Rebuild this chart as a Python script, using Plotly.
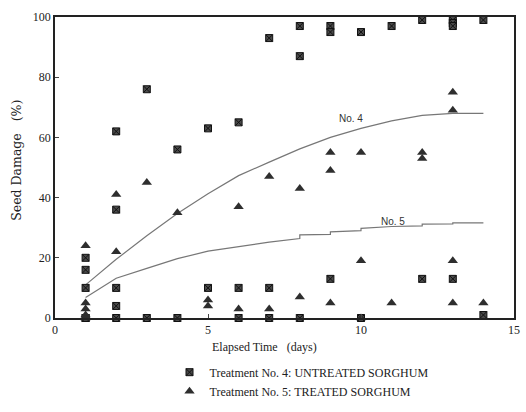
import plotly.graph_objects as go

# ---- data ----
t4_days = [1, 1, 1, 1, 1, 2, 2, 2, 2, 2, 3, 3, 4, 4, 5, 5, 6, 6, 6, 7, 7, 7,
           8, 8, 8, 9, 9, 9, 10, 10, 11, 12, 12, 13, 13, 13, 13, 14, 14]
t4_vals = [20, 16, 10, 0, 0, 62, 36, 10, 4, 0, 76, 0, 56, 0, 63, 10, 65, 10, 0, 93, 10, 0,
           97, 87, 0, 97, 95, 13, 95, 0, 97, 99, 13, 99, 98, 97, 13, 99, 1]

t5_days = [1, 1, 1, 1, 1, 2, 2, 3, 4, 5, 5, 6, 6, 7, 7, 8, 8, 9, 9, 9,
           10, 10, 10, 11, 12, 12, 13, 13, 13, 13, 14]
t5_vals = [24, 5, 3, 1, 0, 41, 22, 45, 35, 6, 4, 37, 3, 47, 3, 43, 7, 55, 49, 5,
           55, 19, 0, 5, 55, 53, 75, 69, 19, 5, 5]

fit4_days = [1, 2, 3, 4, 5, 6, 7, 8, 9, 10, 11, 12, 13, 14]
fit4_vals = [11, 19.5, 27.3, 34.7, 41.3, 47.3, 51.8, 56.2, 60, 63, 65.5, 67.3, 68, 68]

fit5_days = [1, 2, 3, 4, 5, 6, 7, 8, 8, 9, 9, 10, 10, 11, 12, 12, 13, 13, 14]
fit5_vals = [6.8, 13.2, 16.5, 19.7, 22.2, 23.8, 25.2, 26.4, 27.6, 27.8, 28.6, 29, 29.8,
             30.4, 30.6, 31.2, 31.3, 31.6, 31.6]

x_ticks = [0, 5, 10, 15]
y_ticks = [0, 20, 40, 60, 80, 100]

label4 = "Treatment No. 4: UNTREATED SORGHUM"
label5 = "Treatment No. 5: TREATED SORGHUM"

SERIF = "Liberation Serif, Times New Roman, serif"
SANS = "Liberation Sans, Arial, sans-serif"

fig = go.Figure()

fig.add_trace(go.Scatter(x=fit4_days, y=fit4_vals, mode="lines",
                         line=dict(color="#777777", width=1.2), showlegend=False,
                         hoverinfo="skip"))
fig.add_trace(go.Scatter(x=fit5_days, y=fit5_vals, mode="lines",
                         line=dict(color="#777777", width=1.2), showlegend=False,
                         hoverinfo="skip"))

fig.add_trace(go.Scatter(x=t4_days, y=t4_vals, mode="markers", name=label4,
                         cliponaxis=False,
                         marker=dict(symbol="square-x", size=7, color="#4a4a4a",
                                     line=dict(color="#111111", width=1))))
fig.add_trace(go.Scatter(x=t5_days, y=t5_vals, mode="markers", name=label5,
                         cliponaxis=False,
                         marker=dict(symbol="triangle-up", size=9, color="#2e2e2e",
                                     line=dict(color="#2e2e2e", width=0))))

fig.add_annotation(x=9.68, y=66.2, text="No. 4", showarrow=False,
                   font=dict(family=SANS, size=10, color="#333333"))
fig.add_annotation(x=11.03, y=32.1, text="No. 5", showarrow=False,
                   font=dict(family=SANS, size=10, color="#333333"))

fig.add_annotation(xref="paper", yref="paper", x=(267 - 55) / 465, y=-(358 - 328) / 311,
                   text="Elapsed Time\u00a0\u00a0\u00a0(days)", showarrow=False,
                   xanchor="center", yanchor="middle",
                   font=dict(family=SERIF, size=12, color="#222222"))
fig.add_annotation(xref="paper", yref="paper", x=-(55 - 16) / 465, y=(328 - 165) / 311,
                   text="Seed Damage\u00a0\u00a0\u00a0(%)", showarrow=False, textangle=-90,
                   xanchor="center", yanchor="middle",
                   font=dict(family="DejaVu Serif, serif", size=12.5, color="#222222"))

axis_common = dict(showgrid=False, zeroline=False, showline=True, linecolor="#222222",
                   linewidth=1.5, mirror=True, ticks="inside", ticklen=4,
                   tickcolor="#444444", tickwidth=1,
                   tickfont=dict(family=SERIF, size=12, color="#222222"))

fig.update_xaxes(range=[0, 15], tickvals=x_ticks, **axis_common)
fig.update_yaxes(range=[0, 100], tickvals=y_ticks, **axis_common)

fig.update_layout(
    width=526, height=412,
    margin=dict(l=55, r=6, t=17, b=84),
    paper_bgcolor="white", plot_bgcolor="white",
    legend=dict(orientation="v", x=(171 - 55) / 465, xanchor="left",
                y=-(369 - 328) / 311, yanchor="top",
                font=dict(family=SERIF, size=12, color="#222222"),
                bgcolor="rgba(0,0,0,0)", itemwidth=30, tracegroupgap=0),
)

fig.write_html("out.html")
